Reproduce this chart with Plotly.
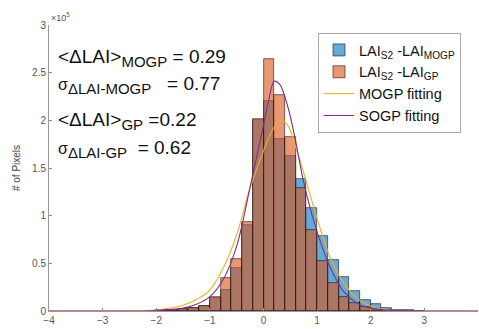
import plotly.graph_objects as go

# Histogram bins (bin width 0.2) and counts in units of 1e5 pixels
bin_centers = [-2.1, -1.9, -1.7, -1.5, -1.3, -1.1, -0.9, -0.7, -0.5, -0.3, -0.1,
               0.1, 0.3, 0.5, 0.7, 0.9, 1.1, 1.3, 1.5, 1.7, 1.9, 2.1, 2.3, 2.5, 2.7, 2.9]
bin_width = 0.2

counts_mogp = [0.004, 0.008, 0.012, 0.018, 0.03, 0.055, 0.14, 0.22, 0.45, 0.90, 2.00,
               2.20, 1.80, 1.63, 1.38, 1.08, 0.79, 0.54, 0.36, 0.21, 0.116, 0.07, 0.035,
               0.015, 0.006, 0.003]
counts_gp = [0.003, 0.006, 0.010, 0.016, 0.028, 0.055, 0.15, 0.345, 0.55, 0.93, 2.01,
             2.64, 2.27, 1.83, 1.29, 0.85, 0.52, 0.29, 0.144, 0.08, 0.045, 0.02, 0.01,
             0.005, 0.002, 0.001]

# Fitted density curves (same units)
fit_x = [-4.0, -2.5, -2.0, -1.5, -1.25, -1.0, -0.75, -0.5, -0.25, 0.0, 0.1, 0.2, 0.3,
         0.45, 0.6, 0.75, 1.0, 1.25, 1.5, 1.75, 2.0, 2.25, 2.5, 3.0, 4.0]
fit_mogp = [0.0, 0.002, 0.01, 0.06, 0.12, 0.22, 0.45, 0.80, 1.29, 1.68, 1.82, 1.93, 2.0,
            1.95, 1.72, 1.45, 0.97, 0.55, 0.29, 0.13, 0.05, 0.016, 0.005, 0.0, 0.0]
fit_sogp = [0.0, 0.0, 0.005, 0.03, 0.07, 0.15, 0.33, 0.68, 1.30, 1.95, 2.22, 2.41, 2.38,
            2.15, 1.78, 1.35, 0.83, 0.45, 0.20, 0.08, 0.03, 0.01, 0.004, 0.0, 0.0]

y_ticks = [0, 0.5, 1, 1.5, 2, 2.5, 3]
x_ticks = [-4, -3, -2, -1, 0, 1, 2, 3, 4]

FONT = "Liberation Sans, Arial, Helvetica, sans-serif"
BLUE = "rgba(0,114,189,0.6)"
ORANGE = "rgba(217,83,25,0.6)"
EDGE = "rgba(30,15,10,0.85)"

fig = go.Figure()
fig.add_trace(go.Bar(
    x=bin_centers, y=counts_mogp, width=bin_width,
    marker=dict(color=BLUE, line=dict(color=EDGE, width=0.7)),
    name="LAI<sub>S2</sub> -LAI<sub>MOGP</sub>",
))
fig.add_trace(go.Bar(
    x=bin_centers, y=counts_gp, width=bin_width,
    marker=dict(color=ORANGE, line=dict(color=EDGE, width=0.7)),
    name="LAI<sub>S2</sub> -LAI<sub>GP</sub>",
))
fig.add_trace(go.Scatter(
    x=fit_x, y=fit_mogp, mode="lines", line=dict(color="#EDB120", width=1.1, shape="spline"),
    name="MOGP fitting",
))
fig.add_trace(go.Scatter(
    x=fit_x, y=fit_sogp, mode="lines", line=dict(color="#7E2F8E", width=1.1, shape="spline"),
    name="SOGP fitting",
))

def ypaper(px):
    return (311 - px) / 286.0

def xpaper(px):
    return (px - 49) / 429.0

def sub(s):
    return '<sub><span style="font-size:15px">' + s + '</span></sub>'

stat_lines = [
    ("&lt;ΔLAI&gt;" + sub("MOGP") + " = 0.29", 58),
    ('<span style="font-size:16px">σ</span>' + sub("ΔLAI-MOGP") + "   = 0.77", 85),
    ("&lt;ΔLAI&gt;" + sub("GP") + " =0.22", 121),
    ('<span style="font-size:16px">σ</span>' + sub("ΔLAI-GP") + "  = 0.62", 149),
]
annotations = []
for txt, ypx in stat_lines:
    annotations.append(dict(
        text=txt, xref="paper", yref="paper", x=xpaper(56), y=ypaper(ypx),
        xanchor="left", yanchor="middle", showarrow=False,
        font=dict(family=FONT, size=19, color="#111"),
    ))
annotations.append(dict(
    text="×10<sup>5</sup>", xref="paper", yref="paper", x=0.0, y=ypaper(25),
    xanchor="left", yanchor="bottom", showarrow=False,
    font=dict(family=FONT, size=9, color="#555"),
))

fig.update_layout(
    width=479, height=329,
    margin=dict(l=49, r=1, t=25, b=18),
    paper_bgcolor="white", plot_bgcolor="white",
    barmode="overlay", bargap=0,
    font=dict(family=FONT, size=10, color="#555"),
    showlegend=True,
    legend=dict(
        x=xpaper(461), y=ypaper(33), xanchor="right", yanchor="top",
        bgcolor="white", bordercolor="#aaa", borderwidth=1,
        font=dict(family=FONT, size=14.5, color="#111"),
        tracegroupgap=0, itemwidth=30,
    ),
    annotations=annotations,
    xaxis=dict(
        range=[-4, 4], tickvals=x_ticks, ticks="inside", ticklen=3,
        tickcolor="#888", showline=True, linecolor="#999", linewidth=1,
        showgrid=False, zeroline=False, tickfont=dict(size=10, color="#555"),
    ),
    yaxis=dict(
        range=[0, 3], tickvals=y_ticks, ticktext=["0", "0.5", "1", "1.5", "2", "2.5", "3"],
        ticks="inside", ticklen=3, tickcolor="#888", showline=True, linecolor="#999",
        linewidth=1, showgrid=False, zeroline=False, tickfont=dict(size=10, color="#555"),
        title=dict(text="# of Pixels", font=dict(size=10, color="#444"), standoff=9),
    ),
)

fig.write_html("out.html")
